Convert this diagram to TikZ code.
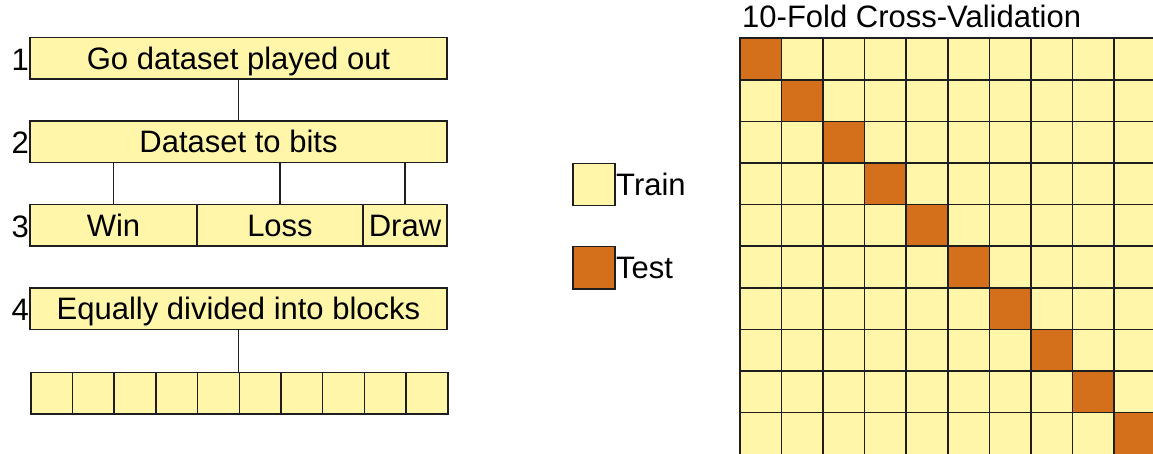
\documentclass[tikz,border=0pt]{standalone}
\usepackage{fontspec}
\setmainfont{Liberation Sans}
\definecolor{trainc}{HTML}{FFF6AA}
\definecolor{testc}{HTML}{D4701C}
\definecolor{edgec}{HTML}{1E1E1E}
\begin{document}
\begin{tikzpicture}[x=1pt,y=-1pt,
  lbl/.style={font=\fontsize{31}{36}\selectfont, text height=22pt, text depth=0pt, inner sep=0pt},
  box/.style={lbl, draw=edgec, line width=1.5pt, fill=trainc, minimum height=41.5pt, anchor=center},
  cell/.style={draw=edgec, line width=1.5pt, minimum width=41.6pt, minimum height=41.6pt, inner sep=0pt, anchor=north west},
  traincell/.style={cell, fill=trainc},
  testcell/.style={cell, fill=testc},
  num/.style={lbl, anchor=east},
  conn/.style={draw=edgec, line width=1.5pt}]
\useasboundingbox (0,0) rectangle (1153,454);
% left stack
\node[box, minimum width=417pt] (b1) at (238.5,58.5) {Go dataset played out};
\node[box, minimum width=417pt] (b2) at (238.5,142) {Dataset to bits};
\node[box, minimum width=167pt] (win) at (113.5,225.5) {Win};
\node[box, minimum width=166pt] (loss) at (280,225.5) {Loss};
\node[box, minimum width=84pt] (draw) at (405,225.5) {Draw};
\node[box, minimum width=417pt] (b4) at (238.5,308.5) {Equally divided into blocks};
\foreach \i in {1,...,10}{
  \node[traincell, minimum width=41.7pt, minimum height=41.5pt] (blk\i) at ({30+(\i-1)*41.7},371.5) {};
}
\node[num] (n1) at (29,59.5) {1};
\node[num] (n2) at (29,143) {2};
\node[num] (n3) at (29,226.5) {3};
\node[num] (n4) at (29,309.5) {4};
\draw[conn] (b1.south) -- (b2.north);
\draw[conn] (win.north) -- (win.north |- b2.south);
\draw[conn] (loss.north) -- (loss.north |- b2.south);
\draw[conn] (draw.north) -- (draw.north |- b2.south);
\draw[conn] (b4.south) -- (b4.south |- blk5.north);
% legend
\node[traincell, minimum width=42pt, minimum height=42pt] (ltrain) at (572,163) {};
\node[lbl, anchor=west] (ttrain) at (616,185) {Train};
\node[testcell, minimum width=42pt, minimum height=42pt] (ltest) at (572,246) {};
\node[lbl, anchor=west] (ttest) at (616,268) {Test};
% grid
\node[lbl, anchor=base west] (title) at (742,28) {10-Fold Cross-Validation};
\foreach \r in {1,...,10}{
  \foreach \c in {1,...,10}{
    \ifnum\r=\c
      \node[testcell] (g\r-\c) at ({739+(\c-1)*41.6},{37.5+(\r-1)*41.6}) {};
    \else
      \node[traincell] (g\r-\c) at ({739+(\c-1)*41.6},{37.5+(\r-1)*41.6}) {};
    \fi
  }
}
\end{tikzpicture}
\end{document}
